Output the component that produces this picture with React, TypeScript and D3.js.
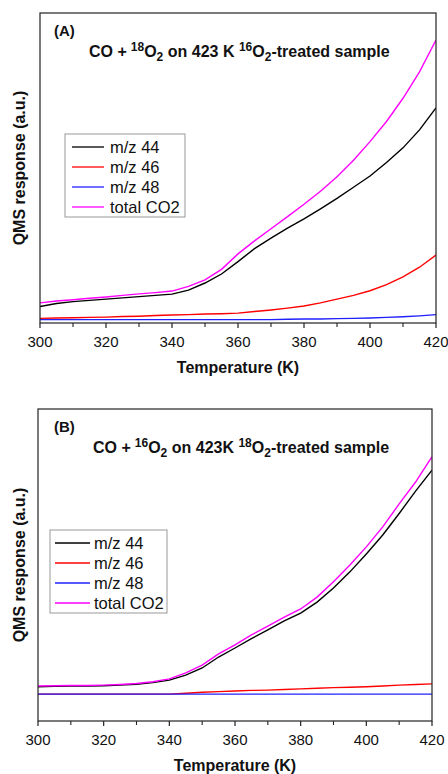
import React from 'react'
import * as d3 from 'd3'

// temperature grid (K), shared by every series
const temps = [300, 305, 310, 315, 320, 325, 330, 335, 340, 345, 350, 355, 360, 365, 370, 375, 380, 385, 390, 395, 400, 405, 410, 415, 420]

// panel A: CO + 18O2 on 423 K 16O2-treated sample (arbitrary units)
const a44 = [5.3, 6.3, 6.9, 7.3, 7.7, 8.1, 8.5, 8.9, 9.3, 10.6, 12.9, 15.8, 19.8, 24.0, 27.4, 30.6, 33.6, 36.8, 40.2, 43.8, 47.4, 51.8, 56.5, 62.3, 69.4]
const a46 = [1.5, 1.6, 1.7, 1.8, 1.9, 2.1, 2.2, 2.4, 2.6, 2.7, 2.9, 3.0, 3.2, 3.7, 4.2, 4.8, 5.5, 6.5, 7.7, 8.9, 10.4, 12.4, 14.9, 18.0, 21.9]
const a48 = [1.1, 1.1, 1.1, 1.1, 1.1, 1.1, 1.1, 1.1, 1.1, 1.1, 1.1, 1.1, 1.1, 1.1, 1.1, 1.2, 1.3, 1.3, 1.4, 1.5, 1.6, 1.8, 2.0, 2.3, 2.7]
const aTotal = [6.5, 7.1, 7.5, 8.0, 8.4, 8.9, 9.4, 9.8, 10.3, 11.8, 13.9, 17.3, 22.3, 26.5, 30.4, 34.3, 38.3, 42.5, 47.2, 52.5, 58.5, 65.0, 72.5, 81.0, 91.3]

// panel B: CO + 16O2 on 423K 18O2-treated sample
const b44 = [11.0, 11.1, 11.2, 11.2, 11.3, 11.5, 11.8, 12.3, 13.1, 14.7, 17.0, 20.5, 23.4, 26.4, 29.2, 32.1, 34.6, 38.1, 42.6, 47.8, 53.5, 59.6, 66.5, 73.7, 80.4]
const b46 = [8.6, 8.6, 8.6, 8.6, 8.6, 8.6, 8.6, 8.6, 8.6, 8.9, 9.2, 9.4, 9.6, 9.8, 9.9, 10.1, 10.3, 10.5, 10.7, 10.8, 11.0, 11.2, 11.5, 11.7, 11.9]
const b48 = [8.6, 8.6, 8.6, 8.6, 8.6, 8.6, 8.6, 8.6, 8.6, 8.6, 8.6, 8.6, 8.6, 8.6, 8.6, 8.6, 8.6, 8.6, 8.6, 8.6, 8.6, 8.6, 8.6, 8.6, 8.6]
const bTotal = [11.2, 11.3, 11.4, 11.4, 11.5, 11.7, 12.0, 12.6, 13.5, 15.4, 17.9, 21.5, 24.4, 27.6, 30.4, 33.3, 35.9, 39.7, 44.6, 50.0, 55.8, 62.2, 69.6, 76.6, 84.7]

const seriesNames = ['m/z 44', 'm/z 46', 'm/z 48', 'total CO2']
const seriesColors = ['#000000', '#ff0000', '#2020ff', '#ff00ff']
const xTicks = [300, 320, 340, 360, 380, 400, 420]
const xMinorTicks = [310, 330, 350, 370, 390, 410]

const FONT = 'Arial, "Liberation Sans", Helvetica, sans-serif'

type PanelProps = {
  box: { left: number; right: number; top: number; bottom: number }
  series: number[][]
  label: string
  iso1: string
  mid: string
  iso2: string
  titleX: number
  legend: { x: number; y: number; w: number; h: number; lineX1: number; lineX2: number; textX: number }
}

const Panel = ({ box, series, label, iso1, mid, iso2, titleX, legend }: PanelProps) => {
  const x = d3.scaleLinear().domain([300, 420]).range([box.left, box.right])
  const y = d3.scaleLinear().domain([0, 100]).range([box.bottom, box.top])
  const line = d3.line<number>()
    .x((_, i) => x(temps[i]))
    .y(v => y(v))

  // draw order: red, blue, black, magenta on top
  const order = [1, 2, 0, 3]
  const midY = (box.top + box.bottom) / 2

  return (
    <g fontFamily={FONT}>
      <defs>
        <clipPath id={'clip' + label}>
          <rect x={box.left} y={box.top} width={box.right - box.left} height={box.bottom - box.top} />
        </clipPath>
      </defs>
      <g clipPath={`url(#clip${label})`}>
        {order.map(i => (
          <path key={i} d={line(series[i]) || ''} fill="none" stroke={seriesColors[i]} strokeWidth={1.4} />
        ))}
      </g>
      <rect x={box.left} y={box.top} width={box.right - box.left} height={box.bottom - box.top}
        fill="none" stroke="#222" strokeWidth={1.2} />
      {xTicks.map(t => (
        <g key={t}>
          <line x1={x(t)} x2={x(t)} y1={box.bottom} y2={box.bottom + 5} stroke="#222" strokeWidth={1.2} />
          <text x={x(t)} y={box.bottom + 24} fontSize={15} textAnchor="middle" fill="#111">{t}</text>
        </g>
      ))}
      {xMinorTicks.map(t => (
        <line key={t} x1={x(t)} x2={x(t)} y1={box.bottom} y2={box.bottom + 4} stroke="#222" strokeWidth={1.1} />
      ))}
      <text x={(box.left + box.right) / 2} y={box.bottom + 50} fontSize={16} fontWeight="bold" textAnchor="middle" fill="#111">
        Temperature (K)
      </text>
      <text transform={`translate(25,${midY}) rotate(-90)`} fontSize={16} fontWeight="bold" textAnchor="middle" fill="#111">
        QMS response (a.u.)
      </text>
      <text x={54} y={box.top + 23} fontSize={15} fontWeight="bold" fill="#111">({label})</text>
      <text x={titleX} y={box.top + 44} fontSize={16} fontWeight="bold" fill="#111">
        CO +<tspan dx={4} dy={-6} fontSize={12}>{iso1}</tspan>
        <tspan dy={6}>O</tspan>
        <tspan dy={4} fontSize={12}>2</tspan>
        <tspan dy={-4}>{mid}</tspan>
        <tspan dy={-6} fontSize={12}>{iso2}</tspan>
        <tspan dy={6}>O</tspan>
        <tspan dy={4} fontSize={12}>2</tspan>
        <tspan dy={-4}>-treated sample</tspan>
      </text>
      <rect x={legend.x} y={legend.y} width={legend.w} height={legend.h} fill="#fff" stroke="#999" strokeWidth={1} />
      {seriesNames.map((name, i) => {
        const cy = legend.y + 13 + i * 20
        return (
          <g key={name}>
            <line x1={legend.lineX1} x2={legend.lineX2} y1={cy} y2={cy} stroke={seriesColors[i]} strokeWidth={1.3} />
            <text x={legend.textX} y={cy + 6} fontSize={16.5} fill="#111">{name}</text>
          </g>
        )
      })}
    </g>
  )
}

export default function App() {
  return (
    <svg width={448} height={774} viewBox="0 0 448 774"
      style={{ position: 'absolute', left: 0, top: 0, background: '#fff' }}>
      <rect width={448} height={774} fill="#fff" />
      <Panel
        box={{ left: 40, right: 436, top: 13, bottom: 323 }}
        series={[a44, a46, a48, aTotal]}
        label="A" iso1="18" mid=" on 423 K " iso2="16" titleX={89}
        legend={{ x: 65, y: 134, w: 120, h: 83, lineX1: 72, lineX2: 104, textX: 110 }}
      />
      <Panel
        box={{ left: 38, right: 432, top: 409, bottom: 721 }}
        series={[b44, b46, b48, bTotal]}
        label="B" iso1="16" mid=" on 423K " iso2="18" titleX={93}
        legend={{ x: 50, y: 530, w: 117, h: 83, lineX1: 55, lineX2: 90, textX: 94 }}
      />
    </svg>
  )
}
